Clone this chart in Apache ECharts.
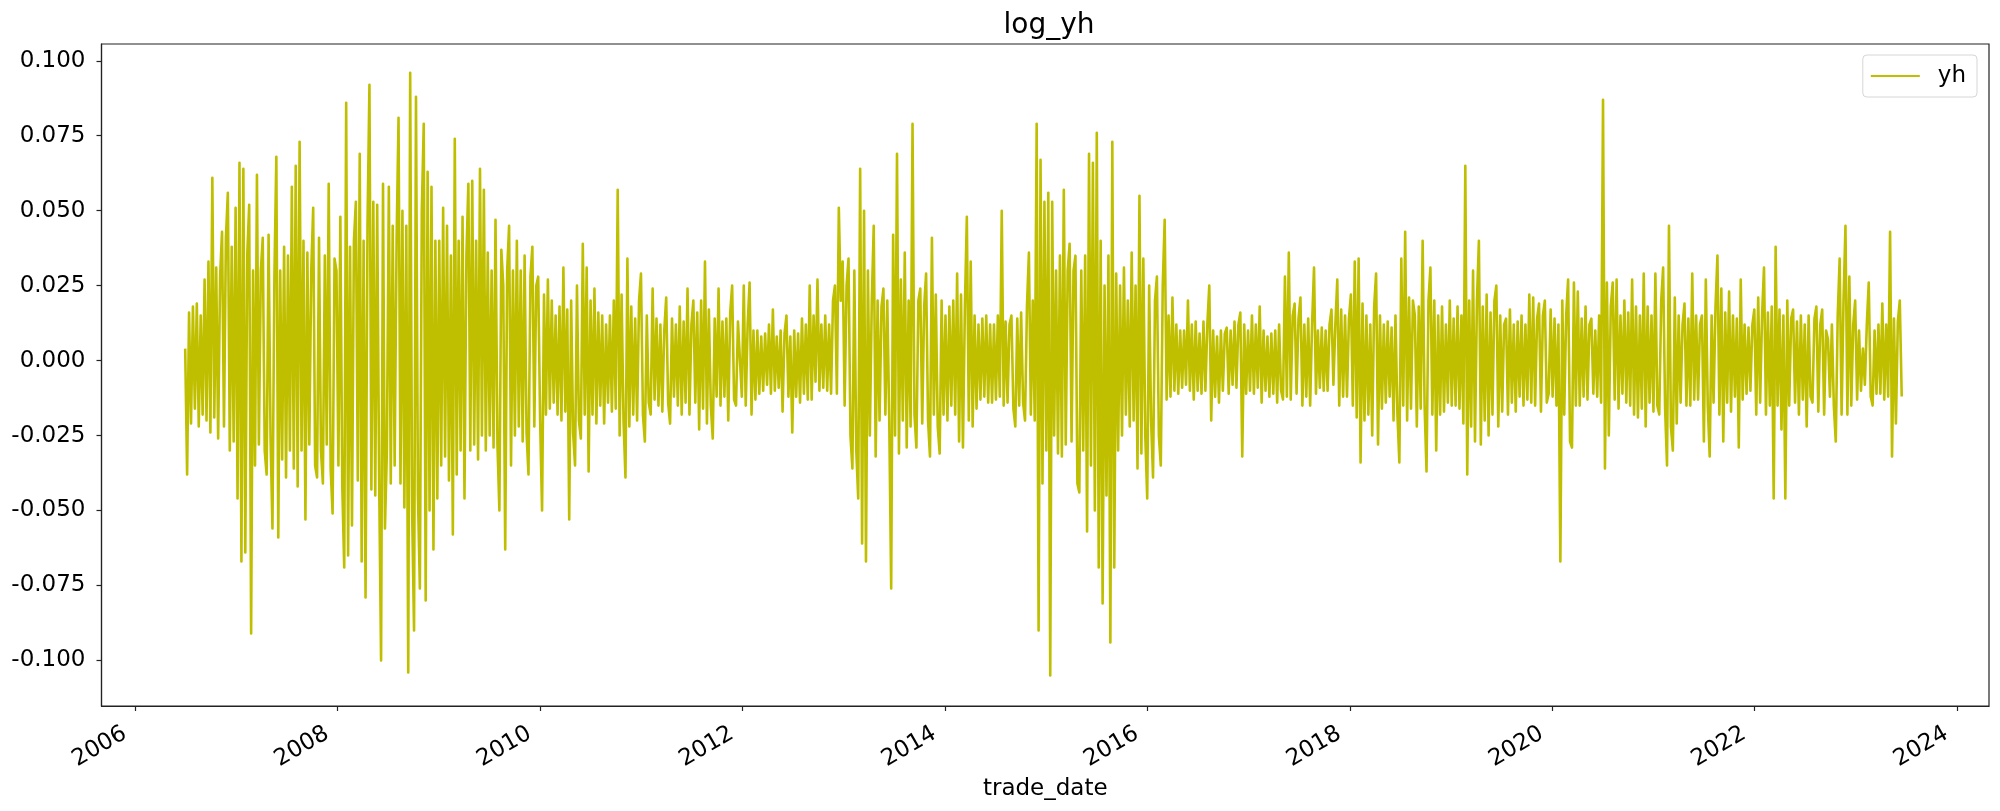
<!DOCTYPE html>
<html>
<head>
<meta charset="utf-8">
<title>log_yh</title>
<script src="https://cdn.jsdelivr.net/npm/echarts@6/dist/echarts.min.js"></script>
<style>
  html, body { margin: 0; padding: 0; background: #fff; }
  #chart { width: 2000px; height: 811px; }
</style>
</head>
<body>
<div id="chart"></div>
<script>
// weekly samples of the log return
const firstDate = '2006-06-30';
const stepDays = 7;

const h2006b = [0.004, -0.038, 0.016, -0.021, 0.018, -0.016, 0.019, -0.022, 0.015, -0.018, 0.027, -0.02, 0.033, -0.024, 0.061, -0.019, 0.031, -0.026, 0.028, 0.043, -0.022, 0.041, 0.056, -0.03, 0.038, -0.027];
const h2007a = [0.051, -0.046, 0.066, -0.067, 0.064, -0.064, 0.035, 0.052, -0.091, 0.03, -0.035, 0.062, -0.028, 0.03, 0.041, -0.03, -0.038, 0.042, -0.025, -0.056, 0.028, 0.068, -0.059, 0.03, -0.033, 0.038];
const h2007b = [-0.039, 0.035, -0.03, 0.058, -0.036, 0.065, -0.042, 0.073, -0.03, 0.04, -0.053, 0.036, -0.028, 0.03, 0.051, -0.035, -0.039, 0.041, -0.03, -0.041, 0.035, -0.028, 0.059, -0.036, -0.051, 0.034];
const h2008a = [0.03, -0.035, 0.048, -0.042, -0.069, 0.086, -0.065, 0.038, -0.055, 0.04, 0.053, -0.04, 0.069, -0.067, 0.04, -0.079, 0.045, 0.092, -0.043, 0.053, -0.045, 0.052, -0.04, -0.1, 0.059, -0.056];
const h2008b = [-0.03, 0.058, -0.041, 0.045, -0.035, 0.04, 0.081, -0.041, 0.05, -0.049, 0.045, -0.104, 0.096, -0.05, -0.09, 0.088, -0.045, -0.076, 0.05, 0.079, -0.08, 0.063, -0.05, 0.058, -0.063, 0.04];
const h2009a = [-0.046, 0.04, -0.035, 0.051, -0.032, 0.045, -0.04, 0.035, -0.058, 0.074, -0.038, 0.04, -0.03, 0.048, -0.046, 0.035, 0.059, -0.03, 0.06, -0.028, 0.04, -0.033, 0.064, -0.025, 0.057, -0.03];
const h2009b = [0.036, -0.025, 0.03, -0.029, 0.047, -0.028, -0.05, 0.037, 0.025, -0.063, 0.03, 0.045, -0.035, 0.03, -0.025, 0.04, -0.022, 0.03, -0.027, 0.035, -0.024, -0.038, 0.028, 0.038, -0.022, 0.025];
const h2010a = [0.028, -0.02, -0.05, 0.022, -0.018, 0.027, -0.016, 0.02, -0.014, 0.015, -0.018, 0.018, -0.02, 0.031, -0.017, 0.017, -0.053, 0.02, -0.024, -0.035, 0.025, -0.02, -0.026, 0.039, -0.018, 0.031];
const h2010b = [-0.037, 0.02, -0.018, 0.024, -0.021, 0.016, -0.015, 0.015, -0.021, 0.012, -0.014, 0.015, -0.017, 0.02, -0.016, 0.057, -0.025, 0.022, -0.02, -0.039, 0.034, -0.022, 0.018, -0.018, 0.014, -0.02];
const h2011a = [0.02, 0.029, -0.018, -0.027, 0.015, -0.014, -0.018, 0.024, -0.013, 0.014, -0.015, 0.012, -0.017, 0.01, 0.021, -0.014, -0.021, 0.014, -0.012, 0.012, -0.015, 0.018, -0.018, 0.013, -0.014, 0.024];
const h2011b = [-0.018, 0.012, 0.02, -0.014, 0.016, -0.023, 0.02, -0.016, 0.033, -0.021, 0.017, -0.015, -0.026, 0.014, -0.012, 0.024, -0.015, 0.013, -0.012, 0.014, -0.02, 0.016, 0.025, -0.013, -0.015, 0.013];
const h2012a = [0.013, -0.012, 0.025, -0.015, 0.012, 0.026, -0.018, 0.01, -0.013, 0.01, -0.011, 0.008, -0.01, 0.009, -0.008, 0.012, -0.011, 0.017, -0.01, 0.008, -0.009, 0.01, -0.017, 0.009, 0.015, -0.012];
const h2012b = [0.008, -0.024, 0.01, -0.012, 0.009, -0.014, 0.014, -0.011, 0.012, -0.013, 0.025, -0.013, 0.015, -0.007, 0.027, -0.01, 0.012, -0.009, 0.015, -0.01, 0.012, -0.011, 0.02, 0.025, -0.011, 0.051];
const h2013a = [0.02, 0.033, -0.015, 0.025, 0.034, -0.025, -0.036, 0.03, -0.03, -0.046, 0.064, -0.061, 0.05, -0.067, 0.03, -0.025, 0.02, 0.045, -0.032, 0.02, -0.02, 0.018, 0.024, -0.018, 0.02, -0.02];
const h2013b = [-0.076, 0.042, -0.025, 0.069, -0.031, 0.027, -0.02, 0.036, -0.029, 0.02, -0.022, 0.079, -0.018, -0.029, 0.02, 0.024, -0.021, 0.018, 0.029, -0.02, -0.032, 0.041, -0.018, 0.022, -0.022, -0.031];
const h2014a = [0.02, -0.018, 0.015, -0.02, 0.018, -0.015, 0.02, -0.018, 0.029, -0.027, 0.022, -0.029, 0.018, 0.048, -0.02, 0.033, -0.022, 0.015, -0.016, 0.012, -0.013, 0.014, -0.012, 0.015, -0.014, 0.012];
const h2014b = [-0.014, 0.012, -0.013, 0.015, -0.012, 0.05, -0.015, 0.013, -0.014, 0.012, 0.015, -0.016, -0.022, 0.014, -0.015, 0.016, -0.014, -0.02, 0.018, 0.036, -0.018, 0.02, -0.02, 0.079, -0.09, 0.067];
const h2015a = [-0.041, 0.053, -0.03, 0.056, -0.105, 0.053, -0.025, 0.03, -0.031, 0.035, -0.032, 0.057, -0.028, 0.03, 0.039, -0.027, 0.03, 0.035, -0.041, -0.044, 0.03, -0.03, 0.035, -0.057, 0.069, -0.035];
const h2015b = [0.066, -0.05, 0.076, -0.069, 0.04, -0.081, 0.025, -0.045, 0.035, -0.094, 0.073, -0.069, 0.029, -0.03, 0.025, -0.025, 0.031, -0.018, 0.02, -0.022, 0.036, -0.02, 0.025, -0.036, 0.055, -0.031];
const h2016a = [0.034, -0.025, -0.046, 0.025, -0.02, -0.039, 0.02, 0.028, -0.025, -0.035, 0.025, 0.047, -0.013, 0.015, -0.012, 0.021, -0.01, 0.012, -0.011, 0.01, -0.009, 0.01, -0.008, 0.02, -0.01, 0.012];
const h2016b = [-0.013, 0.013, -0.01, 0.009, -0.011, 0.013, -0.01, 0.012, 0.025, -0.02, 0.01, -0.012, 0.008, -0.014, 0.01, -0.01, 0.009, 0.011, -0.011, 0.01, -0.008, 0.013, -0.009, 0.012, 0.016, -0.032];
const h2017a = [0.012, -0.011, 0.01, -0.01, 0.015, -0.011, 0.012, -0.009, 0.018, -0.014, 0.01, -0.01, 0.008, -0.012, 0.009, -0.011, 0.01, -0.014, 0.012, -0.01, -0.013, 0.028, -0.012, 0.036, -0.013, 0.015];
const h2017b = [0.019, -0.011, 0.014, 0.021, -0.015, 0.012, -0.012, 0.014, -0.015, 0.012, 0.031, -0.011, 0.01, -0.009, 0.011, -0.01, 0.01, -0.01, 0.012, 0.017, -0.008, 0.012, 0.027, -0.015, 0.017, -0.012];
const h2018a = [0.015, -0.012, 0.014, 0.022, -0.015, 0.033, -0.019, 0.034, -0.034, 0.019, -0.02, 0.015, -0.018, 0.012, -0.025, 0.018, 0.029, -0.028, 0.015, -0.016, 0.012, -0.014, 0.013, -0.012, 0.011, -0.02];
const h2018b = [0.015, -0.018, -0.034, 0.034, -0.015, 0.043, -0.02, 0.021, -0.016, 0.02, 0.015, -0.022, 0.018, -0.016, 0.04, -0.015, -0.037, 0.02, 0.031, -0.018, 0.02, -0.03, 0.015, -0.018, 0.018, -0.017];
const h2019a = [0.012, -0.014, 0.02, -0.015, 0.014, -0.015, 0.018, -0.016, 0.015, -0.021, 0.065, -0.038, 0.02, -0.022, 0.03, -0.027, 0.02, 0.04, -0.028, 0.018, -0.02, 0.022, -0.025, 0.016, -0.018, 0.02];
const h2019b = [0.025, -0.022, 0.015, -0.017, 0.012, 0.014, -0.018, 0.017, -0.014, 0.012, -0.017, 0.013, -0.012, 0.015, -0.015, 0.012, -0.013, 0.022, -0.014, 0.021, -0.015, 0.014, 0.019, -0.017, 0.015, 0.02];
const h2020a = [-0.014, -0.011, 0.017, -0.012, 0.014, -0.015, 0.012, -0.067, 0.02, -0.018, 0.015, 0.027, -0.027, -0.029, 0.026, -0.015, 0.023, -0.015, 0.014, -0.012, 0.018, -0.013, 0.012, 0.014, -0.011, 0.01];
const h2020b = [-0.012, 0.015, -0.014, 0.087, -0.036, 0.026, -0.025, 0.018, 0.026, -0.013, 0.027, -0.016, 0.015, -0.011, 0.02, -0.014, 0.016, -0.015, 0.027, -0.018, 0.018, -0.019, 0.015, -0.016, 0.029, -0.022];
const h2021a = [0.018, -0.014, 0.015, -0.017, 0.029, -0.015, -0.018, 0.02, 0.031, -0.016, -0.035, 0.045, -0.022, -0.03, 0.021, -0.021, 0.015, -0.014, 0.012, 0.019, -0.015, 0.014, -0.015, 0.029, -0.013, 0.015];
const h2021b = [-0.013, 0.012, 0.015, -0.027, 0.027, -0.015, -0.032, 0.015, -0.014, 0.018, 0.035, -0.018, 0.024, -0.027, 0.016, -0.014, 0.023, -0.017, 0.015, -0.012, 0.014, -0.029, 0.027, -0.013, 0.012, -0.011];
const h2022a = [0.011, -0.01, 0.012, 0.017, -0.018, 0.021, -0.014, 0.015, 0.031, -0.018, 0.016, -0.015, 0.018, -0.046, 0.038, -0.015, 0.017, -0.023, 0.015, -0.046, 0.02, -0.015, 0.014, 0.017, -0.014, 0.013];
const h2022b = [-0.018, 0.015, -0.013, 0.012, -0.022, 0.015, -0.012, -0.014, 0.014, 0.018, -0.017, 0.012, 0.017, -0.018, 0.01, 0.007, -0.012, 0.012, -0.015, -0.027, 0.015, 0.034, -0.018, 0.02, 0.045, -0.018];
const h2023a = [0.028, -0.015, 0.012, 0.02, -0.013, 0.01, -0.01, 0.004, -0.008, 0.012, 0.026, -0.012, -0.015, 0.01, -0.011, 0.012, -0.011, 0.019, -0.013, 0.012, -0.012, 0.043, -0.032, 0.014, -0.021, 0.013, 0.02, -0.012];

const yh = [].concat(
  h2006b, h2007a, h2007b, h2008a, h2008b, h2009a, h2009b, h2010a, h2010b,
  h2011a, h2011b, h2012a, h2012b, h2013a, h2013b, h2014a, h2014b, h2015a,
  h2015b, h2016a, h2016b, h2017a, h2017b, h2018a, h2018b, h2019a, h2019b,
  h2020a, h2020b, h2021a, h2021b, h2022a, h2022b, h2023a
);

const xTickYears = [2006, 2008, 2010, 2012, 2014, 2016, 2018, 2020, 2022, 2024];
const yTicks = [-0.1, -0.075, -0.05, -0.025, 0, 0.025, 0.05, 0.075, 0.1];

const DAY = 864e5;
const t0 = Date.parse(firstDate + 'T00:00:00Z');
const seriesData = yh.map((v, i) => [t0 + i * stepDays * DAY, v]);
const xTicks = xTickYears.map(y => Date.UTC(y, 0, 1));

const ink = '#222';
const font = 'DejaVu Sans';

let chart = echarts.init(document.getElementById('chart'), null, { renderer: 'canvas' });

var option = {
  animation: false,
  backgroundColor: '#fff',
  textStyle: { fontFamily: font },
  title: {
    text: 'log_yh',
    left: 1044,
    top: 7,
    textAlign: 'center',
    textStyle: { fontFamily: font, fontSize: 28, fontWeight: 'normal', color: '#000' },
  },
  legend: {
    data: ['yh'],
    right: 23,
    top: 55,
    icon: 'path://M0,0 H49 V2 H0 Z',
    itemWidth: 49,
    itemHeight: 2.5,
    padding: [9.5, 11, 9.5, 8],
    borderColor: '#d6d6d6',
    borderWidth: 1,
    borderRadius: 4,
    backgroundColor: 'rgba(255,255,255,0.8)',
    selectedMode: false,
    textStyle: { fontFamily: font, fontSize: 23, color: '#000', padding: [0, 0, 0, 13] },
  },
  grid: {
    left: 101.5,
    right: 11,
    top: 44,
    bottom: 105,
    show: true,
    borderColor: ink,
    borderWidth: 1.2,
    containLabel: false,
    outerBoundsMode: 'none',
  },
  // x is a plain number axis holding the timestamps, so the year ticks can be set directly
  xAxis: {
    type: 'value',
    min: Date.UTC(2005, 8, 1),
    max: Date.UTC(2024, 3, 26),
    name: 'trade_date',
    nameLocation: 'middle',
    nameGap: 68,
    nameTextStyle: { fontFamily: font, fontSize: 23, color: '#000' },
    splitLine: { show: false },
    axisLine: { onZero: false, lineStyle: { color: ink, width: 1.2 } },
    axisTick: { customValues: xTicks, length: 5, lineStyle: { color: ink, width: 1.2 } },
    axisLabel: {
      customValues: xTicks,
      rotate: 30,
      margin: 20,
      padding: [0, 12, 0, 0],
      fontFamily: font,
      fontSize: 23,
      color: '#000',
      formatter: (v) => String(new Date(v).getUTCFullYear()),
    },
  },
  yAxis: {
    type: 'value',
    min: -0.1152,
    max: 0.1056,
    splitLine: { show: false },
    axisLine: { show: true, onZero: false, lineStyle: { color: ink, width: 1.2 } },
    axisTick: { show: true, customValues: yTicks, length: 5, lineStyle: { color: ink, width: 1.2 } },
    axisLabel: {
      customValues: yTicks,
      margin: 16,
      fontFamily: font,
      fontSize: 23,
      color: '#000',
      formatter: (v) => v.toFixed(3),
    },
  },
  series: [
    {
      name: 'yh',
      type: 'line',
      data: seriesData,
      showSymbol: false,
      symbol: 'none',
      color: '#bfbf00',
      lineStyle: { color: '#bfbf00', width: 2.6, join: 'round' },
      emphasis: { disabled: true },
    },
  ],
};

chart.setOption(option);
window.onresize = function () {
  chart.resize();
};
</script>
</body>
</html>
